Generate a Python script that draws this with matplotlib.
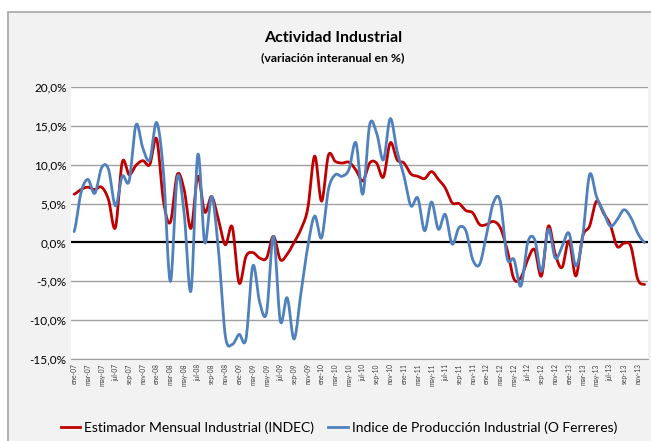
import numpy as np
import matplotlib
matplotlib.use("Agg")
import matplotlib.pyplot as plt
from matplotlib.lines import Line2D
from matplotlib.patches import Rectangle

plt.rcParams['font.family'] = ['Lato', 'DejaVu Sans']

# meses ene-07 .. dic-13
meses = ['ene', 'feb', 'mar', 'abr', 'may', 'jun', 'jul', 'ago', 'sep', 'oct', 'nov', 'dic']
anios = ['07', '08', '09', '10', '11', '12', '13']
etiquetas = ['{}-{}'.format(m, a) for a in anios for m in meses]

# Estimador Mensual Industrial (INDEC), var. % interanual
emi = [6.2, 6.8, 7.1, 6.8, 7.1, 5.5, 1.9, 10.3, 8.7, 9.9, 10.5, 10.0,
       13.3, 5.3, 2.6, 8.7, 6.8, 1.8, 8.5, 3.9, 5.9, 2.9, -0.3, 2.0,
       -5.2, -1.8, -1.3, -2.0, -2.0, 0.8, -2.2, -1.5, 0.0, 1.7, 4.4, 11.1,
       5.3, 11.2, 10.4, 10.2, 10.3, 9.3, 7.9, 10.2, 10.2, 8.4, 12.8, 10.6,
       10.2, 8.8, 8.5, 8.2, 9.1, 8.1, 7.0, 5.1, 5.0, 4.1, 3.8, 2.3,
       2.3, 2.7, 1.9, -0.9, -4.7, -4.5, -2.2, -0.9, -4.3, 2.1, -1.5, -3.2,
       0.2, -4.3, 0.8, 2.1, 5.3, 3.8, 2.3, -0.5, -0.1, -0.5, -4.7, -5.4]

# Indice de Produccion Industrial (O. Ferreres)
ipi = [1.4, 6.4, 8.1, 6.3, 9.6, 9.4, 4.7, 8.5, 7.9, 15.1, 12.1, 10.6,
       15.4, 9.0, -5.0, 8.3, 3.8, -6.2, 11.3, 0.0, 5.9, -1.0, -12.0, -13.1,
       -11.8, -12.4, -3.0, -7.7, -9.0, 0.8, -10.1, -7.1, -12.4, -6.5, -0.5, 3.4,
       0.6, 6.8, 8.7, 8.5, 9.4, 12.8, 6.2, 15.1, 14.1, 10.6, 15.9, 11.7,
       8.5, 4.7, 5.7, 1.5, 5.2, 1.7, 3.6, -0.2, 1.9, 1.5, -2.2, -2.8,
       1.0, 5.1, 5.3, -2.0, -2.2, -5.6, 0.0, 0.4, -3.7, 1.7, -2.0, -0.5,
       1.2, -3.0, 0.8, 8.7, 5.9, 4.0, 2.1, 2.9, 4.2, 3.2, 1.2, 0.0]

yticks = [20, 15, 10, 5, 0, -5, -10, -15]
ylabels = ['20,0%', '15,0%', '10,0%', '5,0%', '0,0%', '-5,0%', '-10,0%', '-15,0%']


def suavizar(y, n=16):
    # curva suavizada tipo Excel (Catmull-Rom)
    y = np.asarray(y, dtype=float)
    p = np.concatenate([[y[0]], y, [y[-1]]])
    xs, ys = [], []
    for i in range(len(y) - 1):
        p0, p1, p2, p3 = p[i], p[i + 1], p[i + 2], p[i + 3]
        t = np.linspace(0, 1, n, endpoint=False)
        c1 = p1 + (p2 - p0) / 6.0
        c2 = p2 - (p3 - p1) / 6.0
        yy = (1 - t) ** 3 * p1 + 3 * (1 - t) ** 2 * t * c1 + 3 * (1 - t) * t ** 2 * c2 + t ** 3 * p2
        xs.extend(i + t)
        ys.extend(yy)
    xs.append(len(y) - 1)
    ys.append(y[-1])
    return np.array(xs), np.array(ys)


fig = plt.figure(figsize=(6.51, 4.41), dpi=100)
fig.patch.set_facecolor('white')
fondo = Rectangle((8 / 651, -0.01), 1.0, 1 - 12 / 441 + 0.01, transform=fig.transFigure,
                  facecolor='#f2f2f2', edgecolor='#a6a6a6', linewidth=1.2, zorder=-10)
fig.patches.append(fondo)

ax = fig.add_axes([70.7 / 651, 1 - 359.3 / 441, 577.3 / 651, 272.6 / 441])
ax.set_zorder(1)
ax.set_facecolor('white')

for v in yticks:
    if v == 0:
        continue
    ax.axhline(v, color='#a0a0a0', linewidth=1.0, zorder=1)
ax.axhline(0, color='black', linewidth=1.6, zorder=2)

x1, y1 = suavizar(emi)
x2, y2 = suavizar(ipi)
ax.plot(x1, y1, color='#c00000', linewidth=2.0, zorder=3, solid_capstyle='round')
ax.plot(x2, y2, color='#4f81bd', linewidth=2.0, zorder=4, solid_capstyle='round')

ax.set_xlim(-0.5, len(etiquetas) - 0.5)
ax.set_ylim(-15, 20)
ax.set_yticks(yticks)
ax.set_yticklabels(ylabels, fontsize=8.5)
ax.set_xticks(range(0, len(etiquetas), 2))
ax.set_xticklabels(etiquetas[::2], rotation=90, fontsize=4.8, color='#404040')
ax.tick_params(axis='both', length=0, pad=3)
for s in ['top', 'right', 'left']:
    ax.spines[s].set_visible(False)
ax.spines['bottom'].set_color('#a0a0a0')

fig.text(333 / 651, 1 - 38 / 441, 'Actividad Industrial', ha='center', va='center',
         fontsize=11.5, fontweight='bold')
fig.text(333 / 651, 1 - 58 / 441, '(variación interanual en %)', ha='center', va='center',
         fontsize=8.8, fontweight='bold')

handles = [Line2D([], [], color='#c00000', linewidth=2.0),
           Line2D([], [], color='#4f81bd', linewidth=2.0)]
fig.legend(handles, ['Estimador Mensual Industrial (INDEC)', 'Indice de Producción Industrial (O Ferreres)'],
           loc='center', bbox_to_anchor=(339 / 651, 1 - 428 / 441), ncol=2, frameon=False,
           fontsize=10, handlelength=1.4, handletextpad=0.3, columnspacing=1.0)

fig.savefig('out.png', dpi=100, facecolor=fig.get_facecolor())
